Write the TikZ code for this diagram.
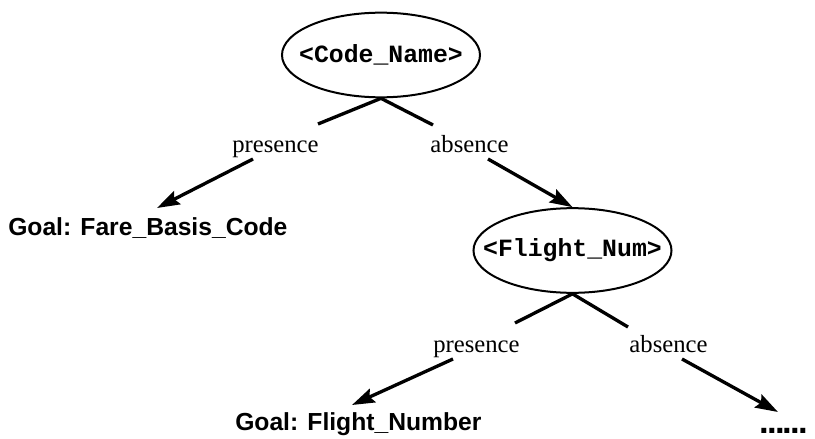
\documentclass[tikz,border=0pt]{standalone}
\usepackage{fontspec}
\setmainfont{Liberation Serif}
\newfontfamily\codefont{Liberation Mono}
\newfontfamily\goalfont{Liberation Sans}
\usetikzlibrary{shapes.geometric,arrows.meta}

\tikzset{
  attr/.style={ellipse, draw, line width=1.5pt, inner sep=0pt,
    minimum width=148.5pt, minimum height=63.5pt,
    font=\codefont\bfseries\fontsize{18.6}{22}\selectfont},
  branch/.style={inner sep=0pt, anchor=base, font=\fontsize{18.5}{22}\selectfont},
  goal/.style={inner sep=0pt, anchor=base west,
    font=\goalfont\bfseries\fontsize{18.5}{22}\selectfont},
  stem/.style={line width=2.5pt},
  pointer/.style={line width=2.5pt, -{Stealth[length=17pt,width=11pt,inset=2.5pt]}}
}
% zero-width box so the ellipse takes its size from the minimum sizes only
\newcommand{\attrtext}[1]{\makebox[0pt]{#1}}

\begin{document}
\begin{tikzpicture}[x=0.75pt, y=-0.75pt]
  \useasboundingbox (0,0) rectangle (815,439);

  % first test: <Code_Name>
  \node[attr] (cn) at (381,55) {\attrtext{<Code\_Name>}};
  \node[branch] (p1) at (275.5,152) {presence};
  \node[branch] (a1) at (469.5,152) {absence};
  \node[goal] (g1) at (8,235) {Goal: Fare\_Basis\_Code};

  % second test: <Flight_Num>
  \node[attr] (fn) at (572.5,250.5) {\attrtext{<Flight\_Num>}};
  \node[branch] (p2) at (476.5,352) {presence};
  \node[branch] (a2) at (668.5,352) {absence};
  \node[goal] (g2) at (235,430) {Goal: Flight\_Number};
  \node[goal, font=\goalfont\bfseries\fontsize{26}{30}\selectfont] (more) at (759,433)
    {.\kern-1.3pt.\kern-1.3pt.\kern-1.3pt.\kern-1.3pt.\kern-1.3pt.};

  % free ends of the stems and arrows
  \coordinate (e1l) at (318,124);
  \coordinate (e1r) at (433,125);
  \coordinate (s1l) at (253,159);
  \coordinate (t1l) at (157,208);
  \coordinate (s1r) at (488,159);
  \coordinate (e2l) at (515,323);
  \coordinate (e2r) at (628,327);
  \coordinate (s2l) at (453,359);
  \coordinate (t2l) at (352,405);
  \coordinate (s2r) at (682,359);
  \coordinate (t2r) at (778,412);

  % stems under each ellipse
  \draw[stem] (cn.south) -- (e1l);
  \draw[stem] (cn.south) -- (e1r);
  \draw[stem] (fn.south) -- (e2l);
  \draw[stem] (fn.south) -- (e2r);

  % arrows from the branch labels
  \draw[pointer] (s1l) -- (t1l);
  \draw[pointer] (s1r) -- (fn.north);
  \draw[pointer] (s2l) -- (t2l);
  \draw[pointer] (s2r) -- (t2r);
\end{tikzpicture}
\end{document}
